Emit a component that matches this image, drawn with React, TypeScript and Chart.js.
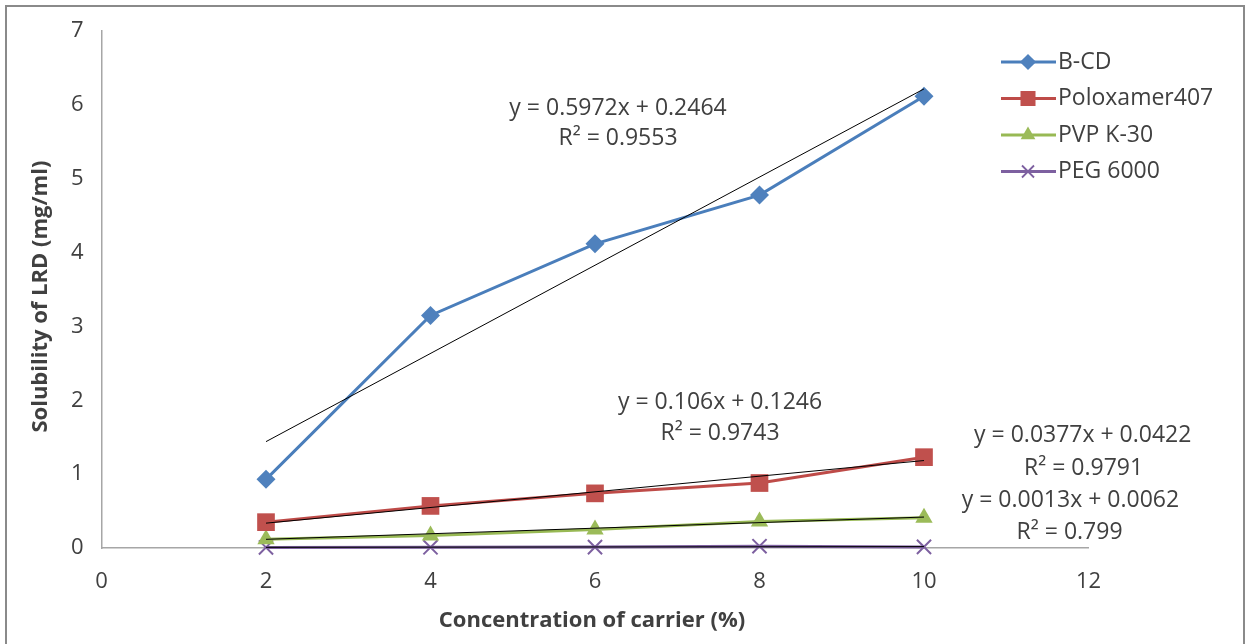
import React, { useEffect, useRef } from "react";
import { Chart, registerables } from "chart.js";

Chart.register(...registerables);

const xValues = [2, 4, 6, 8, 10];
const seriesNames = ["B-CD", "Poloxamer407", "PVP K-30", "PEG 6000"];
const bcd = [0.93, 3.15, 4.12, 4.78, 6.12];
const poloxamer = [0.35, 0.57, 0.74, 0.88, 1.23];
const pvp = [0.12, 0.17, 0.25, 0.36, 0.41];
const peg = [0.008, 0.01, 0.012, 0.025, 0.015];

const trendSlopes = [0.5972, 0.106, 0.0377, 0.0013];
const trendIntercepts = [0.2464, 0.1246, 0.0422, 0.0062];

const annotationTexts = [
  "y = 0.5972x + 0.2464",
  "R² = 0.9553",
  "y = 0.106x + 0.1246",
  "R² = 0.9743",
  "y = 0.0377x + 0.0422",
  "R² = 0.9791",
  "y = 0.0013x + 0.0062",
  "R² = 0.799",
];
const annotationX = [6.28, 6.28, 7.52, 7.52, 11.93, 11.94, 11.78, 11.77];
const annotationY = [5.95, 5.55, 1.97, 1.55, 1.53, 1.08, 0.64, 0.21];

const colors = ["#4A7EBB", "#BE4B48", "#98B954", "#7D60A0"];
const markerFill = ["#4F81BD", "#C0504D", "#9BBB59", "#8064A2"];
const markerStyles = ["rectRot", "rect", "triangle", "crossRot"];
const markerRadius = [9.5, 12.5, 10, 10];

const FONT = "'Open Sans', Lato, sans-serif";
const TEXT = "#404040";
const FS = 23;

const drawMarker = (ctx: CanvasRenderingContext2D, style: string, x: number, y: number, r: number, fill: string, stroke: string) => {
  ctx.save();
  ctx.fillStyle = fill;
  ctx.strokeStyle = stroke;
  ctx.lineWidth = 1.8;
  ctx.beginPath();
  if (style === "rectRot") {
    ctx.moveTo(x, y - r); ctx.lineTo(x + r, y); ctx.lineTo(x, y + r); ctx.lineTo(x - r, y); ctx.closePath(); ctx.fill();
  } else if (style === "rect") {
    const s = r * Math.SQRT1_2;
    ctx.rect(x - s, y - s, 2 * s, 2 * s); ctx.fill();
  } else if (style === "triangle") {
    ctx.moveTo(x, y - r); ctx.lineTo(x + r * 0.866, y + r * 0.5); ctx.lineTo(x - r * 0.866, y + r * 0.5); ctx.closePath(); ctx.fill();
  } else {
    const s = r * Math.SQRT1_2;
    ctx.moveTo(x - s, y - s); ctx.lineTo(x + s, y + s); ctx.moveTo(x + s, y - s); ctx.lineTo(x - s, y + s); ctx.stroke();
  }
  ctx.restore();
};

const framePlugin = {
  id: "frame",
  beforeDraw(chart: any) {
    const ctx = chart.ctx;
    ctx.save();
    ctx.fillStyle = "#ffffff";
    ctx.fillRect(0, 0, chart.width, chart.height);
    ctx.strokeStyle = "#8a8a8a";
    ctx.lineWidth = 2;
    ctx.strokeRect(6, 6, chart.width - 9, chart.height + 20);
    ctx.restore();
  },
  afterDraw(chart: any) {
    const ctx = chart.ctx;
    const { chartArea, scales } = chart;
    ctx.save();
    // axis titles
    ctx.fillStyle = TEXT;
    ctx.font = `bold 22px ${FONT}`;
    ctx.textAlign = "center";
    ctx.textBaseline = "middle";
    ctx.fillText("Concentration of carrier (%)", (chartArea.left + chartArea.right) / 2 - 3, 621);
    ctx.save();
    ctx.translate(41, (chartArea.top + chartArea.bottom) / 2 + 7);
    ctx.rotate(-Math.PI / 2);
    ctx.fillText("Solubility of LRD (mg/ml)", 0, 0);
    ctx.restore();
    // trendline annotations
    ctx.font = `${FS}px ${FONT}`;
    ctx.fillStyle = TEXT;
    annotationTexts.forEach((t, i) => {
      ctx.fillText(t, scales.x.getPixelForValue(annotationX[i]), scales.y.getPixelForValue(annotationY[i]));
    });
    // legend
    ctx.textAlign = "left";
    seriesNames.forEach((name, i) => {
      const y = 62 + i * 36.5;
      ctx.strokeStyle = colors[i];
      ctx.lineWidth = 3;
      ctx.beginPath();
      ctx.moveTo(1001, y);
      ctx.lineTo(1056, y);
      ctx.stroke();
      drawMarker(ctx, markerStyles[i], 1028, y, markerRadius[i] * 0.85, markerFill[i], colors[i]);
      ctx.fillStyle = TEXT;
      ctx.fillText(name, 1058, y);
    });
    ctx.restore();
  },
};

export default function App() {
  const ref = useRef<HTMLCanvasElement>(null);
  useEffect(() => {
    if (!ref.current) return;
    const series = [bcd, poloxamer, pvp, peg];
    const trendSets = trendSlopes.map((m, i) => ({
      label: "trend" + i,
      data: [xValues[0], xValues[xValues.length - 1]].map((x) => ({ x, y: m * x + trendIntercepts[i] })),
      borderColor: "#000000",
      borderWidth: 1,
      pointRadius: 0,
      fill: false,
      clip: false,
    }));
    const mainSets = series.map((vals, i) => ({
      label: seriesNames[i],
      data: xValues.map((x, j) => ({ x, y: vals[j] })),
      borderColor: colors[i],
      backgroundColor: markerFill[i],
      borderWidth: 3,
      pointStyle: markerStyles[i] as any,
      pointRadius: markerRadius[i],
      pointBorderColor: i === 3 ? colors[i] : markerFill[i],
      pointBorderWidth: i === 3 ? 2 : 0,
      fill: false,
      clip: false,
    }));
    const chart = new Chart(ref.current, {
      type: "line",
      data: { datasets: [...trendSets, ...mainSets] as any },
      options: {
        animation: false,
        responsive: false,
        layout: { padding: { left: 0, top: 23, right: 158.5, bottom: 0 } },
        plugins: { legend: { display: false }, tooltip: { enabled: false } },
        scales: {
          x: {
            type: "linear",
            min: 0,
            max: 12,
            afterFit: (s: any) => { s.height = 96; },
            grid: { display: false, drawTicks: false },
            border: { display: true, color: "#a6a6a6", width: 1.5 },
            ticks: { stepSize: 2, color: TEXT, font: { family: FONT, size: 22 }, padding: 21 },
          },
          y: {
            min: 0,
            max: 7,
            afterFit: (s: any) => { s.width = 101.5; },
            grid: { display: false, drawTicks: false },
            border: { display: true, color: "#a6a6a6", width: 1.5 },
            ticks: { stepSize: 1, color: TEXT, font: { family: FONT, size: 22 }, padding: 18 },
          },
        },
      },
      plugins: [framePlugin],
    });
    return () => chart.destroy();
  }, []);
  return (
    <div style={{ position: "absolute", left: 0, top: 0, width: 1247, height: 644 }}>
      <canvas ref={ref} width={1247} height={644} />
    </div>
  );
}
